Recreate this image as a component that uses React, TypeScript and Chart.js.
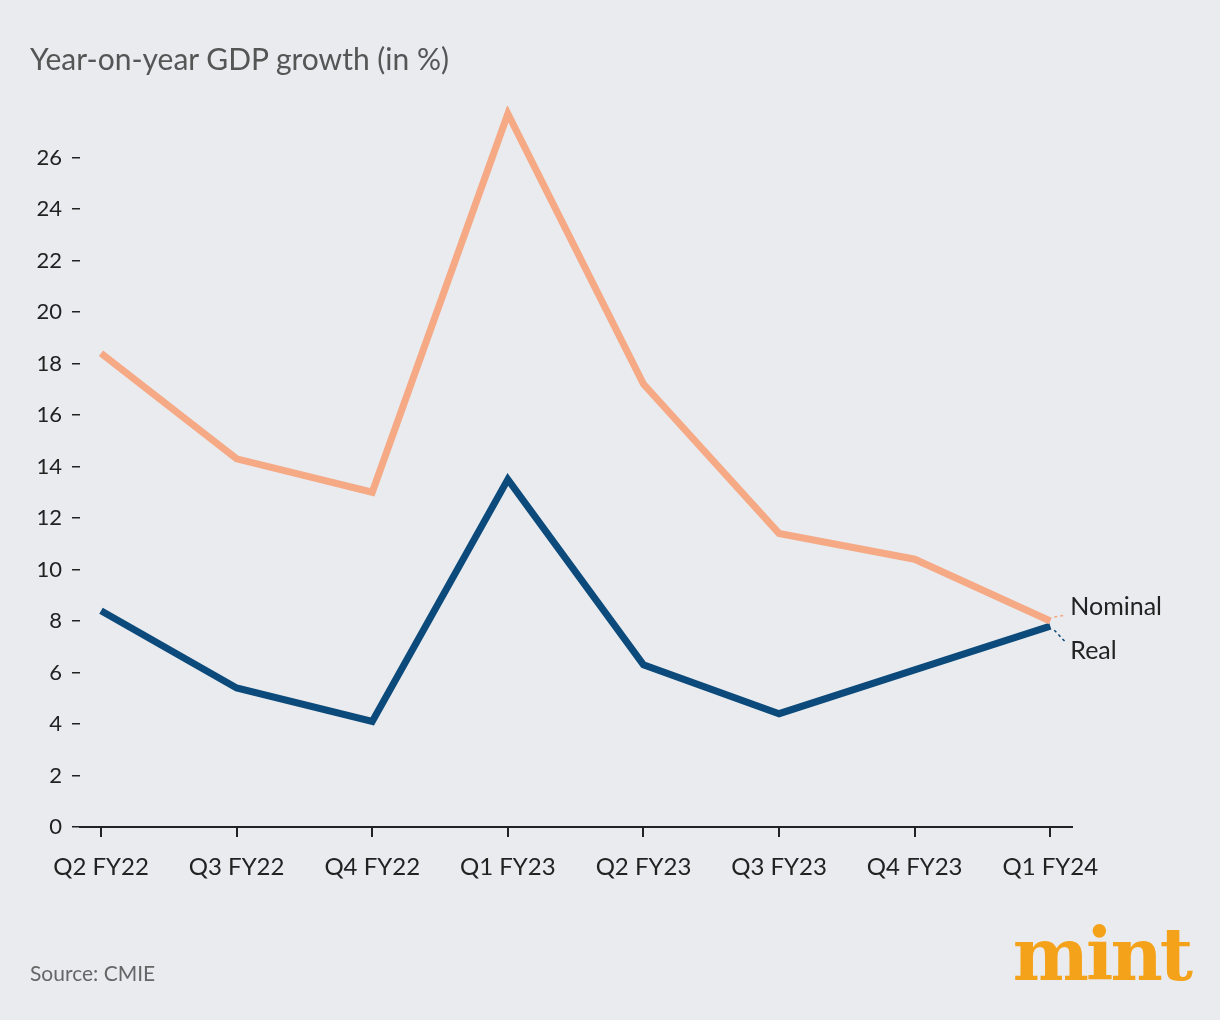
import React, { useEffect, useRef } from "react";
import { Chart, registerables } from "chart.js";
Chart.register(...registerables);

const categories = ["Q2 FY22", "Q3 FY22", "Q4 FY22", "Q1 FY23", "Q2 FY23", "Q3 FY23", "Q4 FY23", "Q1 FY24"];
const nominal = [18.4, 14.3, 13.0, 27.7, 17.2, 11.4, 10.4, 8.0];
const real = [8.4, 5.4, 4.1, 13.5, 6.3, 4.4, 6.1, 7.8];
const yTicks = [0, 2, 4, 6, 8, 10, 12, 14, 16, 18, 20, 22, 24, 26];

const FONT = "Lato, 'Open Sans', sans-serif";

export default function App() {
  const ref = useRef<HTMLCanvasElement>(null);
  useEffect(() => {
    const endLabels = {
      id: "endLabels",
      afterDatasetsDraw(chart: any) {
        const ctx = chart.ctx;
        const xs = chart.scales.x, ys = chart.scales.y;
        const x = xs.getPixelForValue(7);
        const items = [
          { v: nominal[7], ty: 607, text: "Nominal", c: "#f6a985" },
          { v: real[7], ty: 651, text: "Real", c: "#0b4a7a" },
        ];
        ctx.save();
        ctx.font = `25px ${FONT}`;
        ctx.textBaseline = "middle";
        items.forEach((it) => {
          const y = ys.getPixelForValue(it.v);
          ctx.strokeStyle = it.c;
          ctx.lineWidth = 1.5;
          ctx.setLineDash([3, 3]);
          ctx.beginPath();
          ctx.moveTo(x + 4, y + (it.ty < y ? -4 : 4));
          ctx.lineTo(x + 16, it.ty + (it.ty < y ? 8 : -8));
          ctx.stroke();
          ctx.setLineDash([]);
          ctx.fillStyle = "#222";
          ctx.fillText(it.text, x + 20, it.ty);
        });
        ctx.restore();
      },
    };
    const chart = new Chart(ref.current!, {
      type: "line",
      data: {
        datasets: [
          { data: nominal.map((v, i) => ({ x: i, y: v })), borderColor: "#f6a985", borderWidth: 7, pointRadius: 0 },
          { data: real.map((v, i) => ({ x: i, y: v })), borderColor: "#0b4a7a", borderWidth: 7, pointRadius: 0 },
        ],
      },
      options: {
        animation: false,
        responsive: false,
        layout: { padding: { left: 0, right: 148, top: 106, bottom: 0 } },
        plugins: { legend: { display: false }, tooltip: { enabled: false } },
        scales: {
          x: {
            type: "linear",
            min: -0.155,
            max: 7.16,
            afterBuildTicks: (s: any) => { s.ticks = categories.map((_, i) => ({ value: i })); },
            ticks: { callback: (v: any) => categories[v] ?? "", color: "#222", font: { size: 24, family: FONT }, padding: 16, maxRotation: 0, autoSkip: false },
            grid: { drawOnChartArea: false, tickLength: 10, color: "#222", lineWidth: 2 },
            border: { color: "#222", width: 2 },
            afterFit: (s: any) => { s.height = 193; },
          },
          y: {
            min: 0,
            max: 28,
            afterBuildTicks: (s: any) => { s.ticks = yTicks.map((v) => ({ value: v })); },
            ticks: { color: "#222", font: { size: 22, family: FONT }, padding: 10 },
            grid: { drawOnChartArea: false, tickLength: 8, color: "#222", lineWidth: 1.5 },
            border: { display: false },
            afterFit: (s: any) => { s.width = 80; },
          },
        },
      },
      plugins: [endLabels],
    });
    return () => chart.destroy();
  }, []);
  return (
    <div style={{ position: "fixed", left: 0, top: 0, width: 1220, height: 1020, background: "#e9ebef", fontFamily: FONT }}>
      <canvas ref={ref} width={1220} height={1020} style={{ position: "absolute", left: 0, top: 0 }} />
      <div style={{ position: "absolute", left: 30, top: 40, fontSize: 30, color: "#555" }}>Year-on-year GDP growth (in %)</div>
      <div style={{ position: "absolute", left: 30, top: 960, fontSize: 21, color: "#666" }}>Source: CMIE</div>
      <div style={{ position: "absolute", right: 30, top: 912, fontSize: 72, fontWeight: 900, color: "#f5a21b", fontFamily: "'DejaVu Serif', serif", letterSpacing: -3 }}>mint</div>
    </div>
  );
}
